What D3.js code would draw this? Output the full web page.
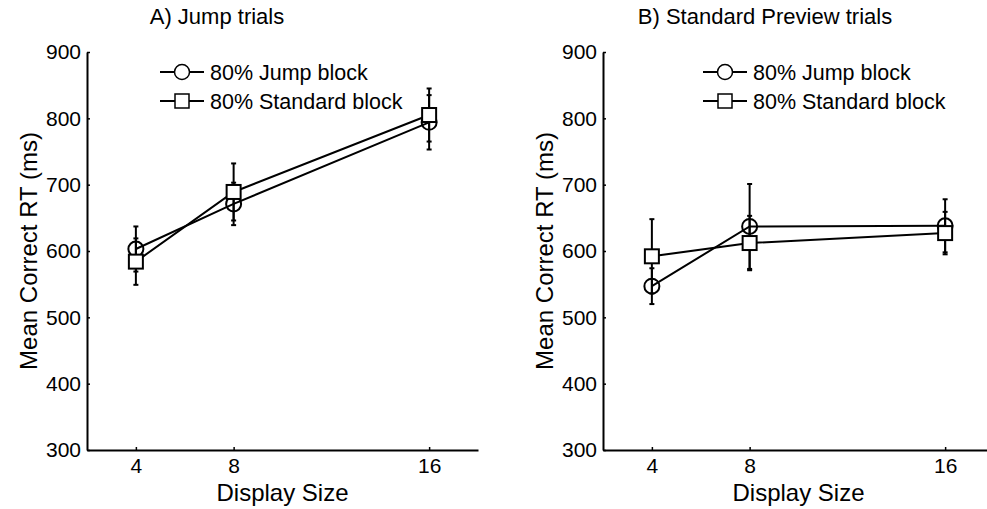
<!DOCTYPE html>
<html>
<head>
<meta charset="utf-8">
<script src="https://cdn.jsdelivr.net/npm/d3@7"></script>
<style>
  body { margin: 0; background: #fff; }
  svg text { font-family: "Liberation Sans", Arial, sans-serif; fill: #000; }
</style>
</head>
<body>
<div id="chart"></div>
<script>
// display sizes on the x axis
const displaySizes = [4, 8, 16];
const yTicks = [300, 400, 500, 600, 700, 800, 900];

// panel A: jump trials
const jumpA = [603, 671, 794];
const jumpAErr = [34, 32, 41];
const stdA = [584, 689, 805];
const stdAErr = [35, 43, 40];

// panel B: standard preview trials
const jumpB = [547, 637, 638];
const jumpBErr = [27, 64, 40];
const stdB = [592, 612, 627];
const stdBErr = [56, 41, 32];

const seriesNames = ["80% Jump block", "80% Standard block"];

const svg = d3.select("#chart").append("svg")
    .attr("width", 987)
    .attr("height", 509);

const panels = [
    {title: "A) Jump trials", titleX: 217, left: 87, legendX: 160,
     series: [{vals: jumpA, err: jumpAErr, shape: "circle"}, {vals: stdA, err: stdAErr, shape: "square"}]},
    {title: "B) Standard Preview trials", titleX: 765, left: 603, legendX: 703,
     series: [{vals: jumpB, err: jumpBErr, shape: "circle"}, {vals: stdB, err: stdBErr, shape: "square"}]}
];

const plotW = 391, plotTop = 52, plotBottom = 450;

panels.forEach(p => {
    let g = svg.append("g");

    let x = d3.scaleLinear().domain([2, 18]).range([p.left, p.left + plotW]);
    let y = d3.scaleLinear().domain([300, 900]).range([plotBottom, plotTop]);

    // axes, ticks pointing inward
    let yAxis = d3.axisLeft(y).tickValues(yTicks).tickSizeInner(-3).tickSizeOuter(0).tickPadding(6);
    let xAxis = d3.axisBottom(x).tickValues(displaySizes).tickSizeInner(-3).tickSizeOuter(0).tickPadding(8);

    let ya = g.append("g").attr("transform", `translate(${p.left},0)`).call(yAxis);
    let xa = g.append("g").attr("transform", `translate(0,${plotBottom})`).call(xAxis);
    [ya, xa].forEach(a => {
        a.select(".domain").attr("stroke", "#000").attr("stroke-width", 2);
        a.selectAll(".tick line").attr("stroke", "#000").attr("stroke-width", 1.5);
        a.selectAll(".tick text").style("font-size", "21px");
    });
    xa.selectAll(".tick text").attr("dy", "0.71em");

    // titles and labels
    g.append("text").attr("x", p.titleX).attr("y", 24)
        .attr("text-anchor", "middle").style("font-size", "22px").text(p.title);
    g.append("text").attr("x", p.left + plotW / 2).attr("y", 501)
        .attr("text-anchor", "middle").style("font-size", "24px").text("Display Size");
    g.append("text")
        .attr("transform", `translate(${p.left - 50},${(plotTop + plotBottom) / 2}) rotate(-90)`)
        .attr("text-anchor", "middle").style("font-size", "24px").text("Mean Correct RT (ms)");

    // lines and error bars
    p.series.forEach(s => {
        let pts = displaySizes.map((d, i) => ({x: d, v: s.vals[i], e: s.err[i]}));
        g.append("path").datum(pts)
            .attr("fill", "none").attr("stroke", "#000").attr("stroke-width", 2)
            .attr("d", d3.line().x(d => x(d.x)).y(d => y(d.v)));

        let eb = g.selectAll(null).data(pts).join("g");
        eb.append("line")
            .attr("x1", d => x(d.x)).attr("x2", d => x(d.x))
            .attr("y1", d => y(d.v - d.e)).attr("y2", d => y(d.v + d.e))
            .attr("stroke", "#000").attr("stroke-width", 2);
        [-1, 1].forEach(sign => {
            eb.append("line")
                .attr("x1", d => x(d.x) - 2.5).attr("x2", d => x(d.x) + 2.5)
                .attr("y1", d => y(d.v + sign * d.e)).attr("y2", d => y(d.v + sign * d.e))
                .attr("stroke", "#000").attr("stroke-width", 2);
        });
    });
    // markers on top
    p.series.forEach(s => {
        let pts = displaySizes.map((d, i) => ({x: d, v: s.vals[i]}));
        if (s.shape === "circle") {
            g.selectAll(null).data(pts).join("circle")
                .attr("cx", d => x(d.x)).attr("cy", d => y(d.v)).attr("r", 7.5)
                .attr("fill", "none").attr("stroke", "#000").attr("stroke-width", 2);
        } else {
            g.selectAll(null).data(pts).join("rect")
                .attr("x", d => x(d.x) - 7).attr("y", d => y(d.v) - 7)
                .attr("width", 14).attr("height", 14)
                .attr("fill", "#fff").attr("stroke", "#000").attr("stroke-width", 2);
        }
    });

    // legend
    seriesNames.forEach((name, i) => {
        let ly = 72 + i * 29;
        let lg = g.append("g");
        lg.append("line").attr("x1", p.legendX).attr("x2", p.legendX + 44)
            .attr("y1", ly).attr("y2", ly).attr("stroke", "#000").attr("stroke-width", 2);
        if (i === 0) {
            lg.append("circle").attr("cx", p.legendX + 22).attr("cy", ly).attr("r", 7.5)
                .attr("fill", "#fff").attr("stroke", "#000").attr("stroke-width", 1.5);
        } else {
            lg.append("rect").attr("x", p.legendX + 15).attr("y", ly - 7)
                .attr("width", 14).attr("height", 14)
                .attr("fill", "#fff").attr("stroke", "#000").attr("stroke-width", 1.5);
        }
        lg.append("text").attr("x", p.legendX + 50).attr("y", ly).attr("dy", "0.35em")
            .style("font-size", "21.5px").text(name);
    });
});
</script>
</body>
</html>
